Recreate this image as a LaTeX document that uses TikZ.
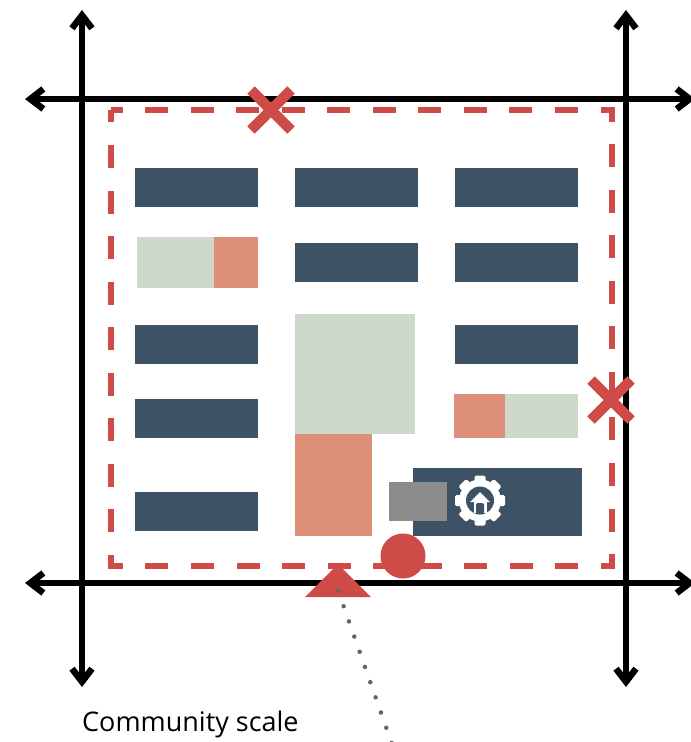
\documentclass[tikz,border=0pt]{standalone}
\usepackage{fontspec}
\setmainfont{Open Sans}
\usetikzlibrary{arrows.meta,shapes.geometric}
\definecolor{blocknavy}{RGB}{61,82,101}
\definecolor{parkgreen}{RGB}{207,216,204}
\definecolor{plotsalmon}{RGB}{221,143,120}
\definecolor{edgered}{RGB}{207,75,72}
\definecolor{lotgrey}{RGB}{140,140,140}
\definecolor{dotgrey}{RGB}{107,99,98}
\begin{document}
\begin{tikzpicture}[
  x=1pt,y=-1pt,
  block/.style={inner sep=0pt,outer sep=0pt,minimum width=123pt,minimum height=39pt,fill=blocknavy},
  parkplot/.style={inner sep=0pt,outer sep=0pt,fill=parkgreen},
  salmonplot/.style={inner sep=0pt,outer sep=0pt,fill=plotsalmon},
  street/.style={line width=6pt,{Straight Barb[length=13pt,width=20pt,line width=6.5pt]}-{Straight Barb[length=13pt,width=20pt,line width=6.5pt]}},
  sitedash/.style={draw=edgered,line width=6pt,dash pattern=on 23pt off 22.55pt,dash phase=11.5pt},
  cross/.style={draw=edgered,line width=10.5pt},
  spoke/.style={inner sep=0pt,outer sep=0pt,fill=white,rounded corners=1.5pt,minimum width=11pt,minimum height=7pt},
]
\useasboundingbox (0,0) rectangle (691,742);

% Streets
\coordinate (n1) at (82,10);  \coordinate (s1) at (82,687);
\coordinate (n2) at (626,10); \coordinate (s2) at (626,687);
\coordinate (w1) at (25,99);  \coordinate (e1) at (695,99);
\coordinate (w2) at (25,583); \coordinate (e2) at (695,583);
\draw[street] (n1) -- (s1);
\draw[street] (n2) -- (s2);
\draw[street] (w1) -- (e1);
\draw[street] (w2) -- (e2);

% Site edge
\coordinate (tl) at (111,110); \coordinate (tr) at (612,110);
\coordinate (br) at (612,566); \coordinate (bl) at (111,566);
\draw[sitedash] (tl) -- (tr) -- (br) -- (bl) -- cycle;

% Blocks
\node[block] (a1) at (196.5,187.5) {};
\node[block] (b1) at (356.5,187.5) {};
\node[block] (c1) at (516.5,187.5) {};
\node[block] (b2) at (356.5,262.5) {};
\node[block] (c2) at (516.5,262.5) {};
\node[block] (a3) at (196.5,344.5) {};
\node[block] (c3) at (516.5,344.5) {};
\node[block] (a4) at (196.5,418.5) {};
\node[block] (a5) at (196.5,511.5) {};

% Open plots
\node[parkplot,minimum width=77pt,minimum height=51pt]    (g1) at (175.5,262.5) {};
\node[salmonplot,minimum width=44pt,minimum height=51pt]  (p1) at (236,262.5) {};
\node[parkplot,minimum width=120pt,minimum height=120pt]  (g2) at (355,374) {};
\node[salmonplot,minimum width=77pt,minimum height=102pt] (p2) at (333.5,485) {};
\node[salmonplot,minimum width=51pt,minimum height=44pt]  (p3) at (479.5,416) {};
\node[parkplot,minimum width=73pt,minimum height=44pt]    (g3) at (541.5,416) {};

% Community building
\node[block,minimum width=169pt,minimum height=68pt] (hub) at (497.5,502) {};
\node[inner sep=0pt,fill=lotgrey,minimum width=58pt,minimum height=39pt] (lot) at (418,501.5) {};
\node[circle,inner sep=0pt,fill=white,minimum size=42pt] (gear) at (480,500.5) {};
\foreach \a in {0,45,...,315}
  \node[spoke,rotate=-\a] (tooth\a) at ([shift={(\a+90:21.5)}]gear.center) {};
\node[circle,inner sep=0pt,fill=blocknavy,minimum size=28pt] (hole) at (gear) {};
\node[isosceles triangle,isosceles triangle apex angle=90,shape border rotate=90,inner sep=0pt,fill=white,minimum width=20pt,minimum height=10pt] (roof) at (480,498) {};
\node[inner sep=0pt,fill=white,minimum width=13pt,minimum height=12pt] (house) at (480,507) {};
\node[inner sep=0pt,fill=blocknavy,rounded corners=2pt,minimum width=8pt,minimum height=11pt] (door) at (480,508.5) {};

% Entry and edge marks
\node[circle,inner sep=0pt,fill=edgered,minimum size=45pt] (junction) at (403,556) {};
\node[isosceles triangle,isosceles triangle apex angle=90,shape border rotate=90,inner sep=0pt,fill=edgered,minimum width=66pt,minimum height=33pt] (entry) at (338,583.5) {};
\coordinate (x1a) at (251,90);  \coordinate (x1b) at (291,130);
\coordinate (x1c) at (291,90);  \coordinate (x1d) at (251,130);
\coordinate (x2a) at (591,380); \coordinate (x2b) at (631,420);
\coordinate (x2c) at (631,380); \coordinate (x2d) at (591,420);
\draw[cross] (x1a) -- (x1b);
\draw[cross] (x1c) -- (x1d);
\draw[cross] (x2a) -- (x2b);
\draw[cross] (x2c) -- (x2d);

% Label
\coordinate (dotstart) at (338.3,591);
\coordinate (dotend) at (392.7,746);
\draw[dotgrey,line width=4.5pt,line cap=round,dash pattern=on 0pt off 16.1pt] (dotstart) -- (dotend);
\node[anchor=base west,inner sep=0pt,font=\fontsize{27}{32}\selectfont] (scale) at (82,731) {Community scale};
\end{tikzpicture}
\end{document}
